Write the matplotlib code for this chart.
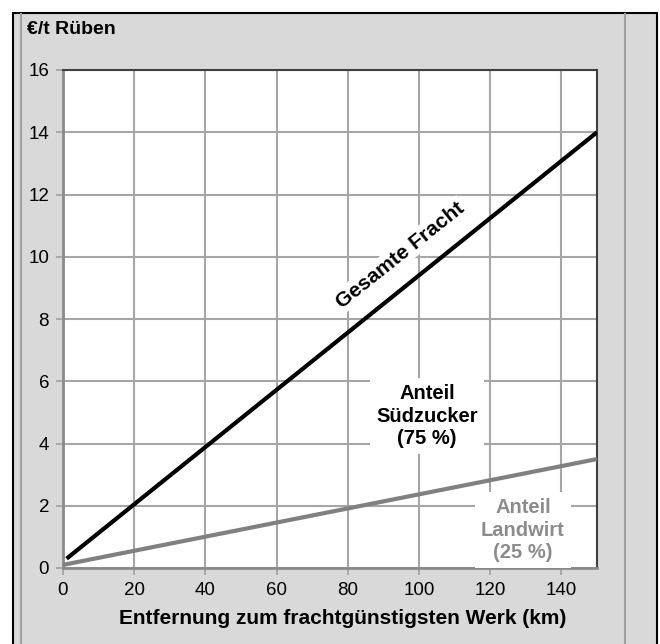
import matplotlib
matplotlib.use("Agg")
import matplotlib.pyplot as plt
from matplotlib.patches import Rectangle
from matplotlib.lines import Line2D

plt.rcParams['font.family'] = ['Liberation Sans', 'DejaVu Sans']

# Data
dist_total = [1, 150]
fracht_total = [0.3, 14.0]
dist_farmer = [0, 150]
fracht_farmer = [0.1, 3.5]
xticks = [0, 20, 40, 60, 80, 100, 120, 140]
yticks = [0, 2, 4, 6, 8, 10, 12, 14, 16]

W, H = 660, 644
fig = plt.figure(figsize=(W / 100, H / 100), dpi=100)
fig.patch.set_facecolor('white')

# outer gray panel with black border
fig.patches.append(Rectangle((13 / W, -0.05), (657 - 13) / W, (H - 13) / H + 0.05,
                             transform=fig.transFigure, facecolor='#d9d9d9',
                             edgecolor='black', linewidth=1.5, zorder=-3))
for xp in (21, 625):
    fig.lines.append(Line2D([xp / W, xp / W], [0, (H - 13.5) / H], transform=fig.transFigure,
                            color='#a0a0a0', linewidth=1.5, zorder=-2))

ax = fig.add_axes([63 / W, 1 - 568 / H, (597 - 63) / W, (568 - 70) / H])
ax.set_facecolor('white')
ax.set_xlim(0, 150)
ax.set_ylim(0, 16)
ax.set_xticks(xticks)
ax.set_yticks(yticks)
ax.grid(True, color='#a6a6a6', linewidth=1.5)
ax.set_axisbelow(True)
ax.tick_params(axis='both', length=5, width=1.2, color='#a0a0a0', labelsize=13.5,
               labelcolor='black', pad=5)
for s in ('left', 'bottom'):
    ax.spines[s].set_color('#8a8a8a')
    ax.spines[s].set_linewidth(2)
for s in ('top', 'right'):
    ax.spines[s].set_color('#404040')
    ax.spines[s].set_linewidth(1.5)

ax.plot(dist_farmer, fracht_farmer, color='#808080', linewidth=3, solid_capstyle='butt', zorder=3)
ax.plot(dist_total, fracht_total, color='black', linewidth=3, solid_capstyle='butt', zorder=3)

ax.text(94.7, 10.06, 'Gesamte Fracht', rotation=38.6, rotation_mode='anchor',
        ha='center', va='center', fontsize=15, fontweight='bold', color='black',
        bbox=dict(boxstyle='square,pad=0.1', facecolor='white', edgecolor='none'), zorder=4)
ax.text(102.2, 4.88, 'Anteil\nSüdzucker\n(75 %)', ha='center', va='center',
        fontsize=14.5, fontweight='bold', color='black', linespacing=1.22,
        bbox=dict(boxstyle='square,pad=0.3', facecolor='white', edgecolor='none'), zorder=4)
ax.text(129.2, 1.22, 'Anteil\nLandwirt\n(25 %)', ha='center', va='center',
        fontsize=14.5, fontweight='bold', color='#8c8c8c', linespacing=1.25,
        bbox=dict(boxstyle='square,pad=0.3', facecolor='white', edgecolor='none'), zorder=4)

fig.text(27 / W, 1 - 30 / H, '€/t Rüben', ha='left', va='center', fontsize=14, fontweight='bold')
fig.text(343 / W, 1 - 618 / H, 'Entfernung zum frachtgünstigsten Werk (km)',
         ha='center', va='center', fontsize=15, fontweight='bold')

fig.savefig('out.png', dpi=100)
